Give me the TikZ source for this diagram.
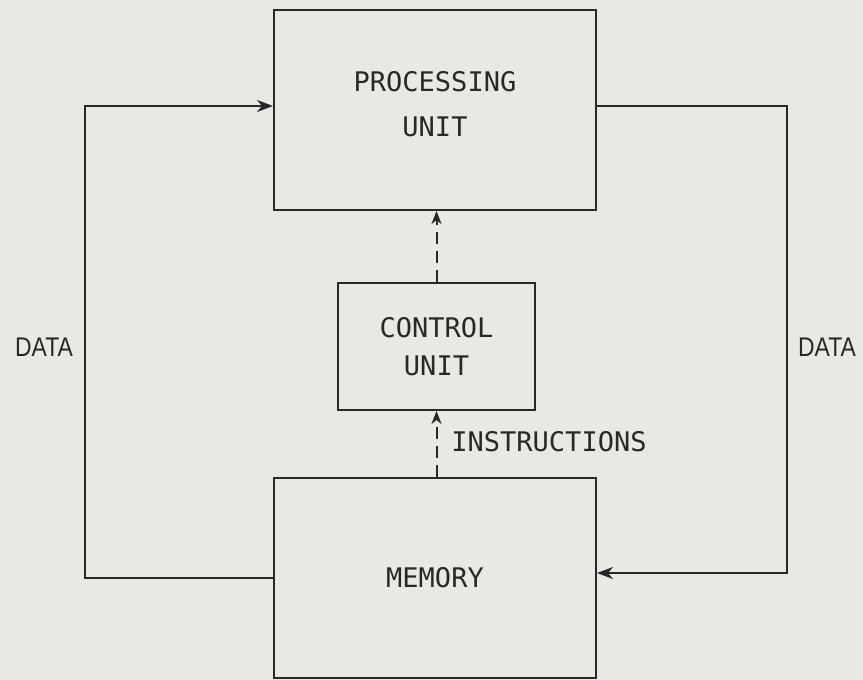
\documentclass[tikz,border=0pt]{standalone}
\usepackage{fontspec}
\newfontfamily\boxfont{DejaVu Sans Mono}
\newfontfamily\datafont[FakeStretch=0.85]{Liberation Sans}
\usetikzlibrary{arrows.meta}
\definecolor{paper}{RGB}{230,234,226}
\definecolor{ink}{RGB}{40,40,40}
\tikzset{
  unitbox/.style={draw=ink, line width=2pt, rectangle, inner sep=0pt,
    align=center, text=ink, font=\boxfont\fontsize{27}{45}\selectfont},
  flow/.style={draw=ink, line width=2pt, -{Stealth[length=16pt,width=12pt,inset=5pt]}},
  ctrlflow/.style={draw=ink, line width=2pt, dash pattern=on 12pt off 7pt,
    -{Stealth[length=13pt,width=10pt,inset=4pt]}},
  datalabel/.style={text=ink, font=\datafont\fontsize{27}{30}\selectfont, inner sep=0pt},
  instrlabel/.style={text=ink, font=\boxfont\fontsize{27}{30}\selectfont, inner sep=0pt}
}
\begin{document}
\begin{tikzpicture}[x=1pt,y=-1pt]
\fill[paper] (0,0) rectangle (863,680);
\useasboundingbox (0,0) rectangle (863,680);
\node[unitbox, minimum width=322pt, minimum height=200pt,
  label={[text=ink, align=center, font=\boxfont\fontsize{27}{45}\selectfont, yshift=5.5pt]center:PROCESSING\\UNIT}] (proc) at (435,110) {};
\node[unitbox, minimum width=197pt, minimum height=127pt,
  font=\boxfont\fontsize{27}{38}\selectfont] (ctrl) at (436.5,346.5) {CONTROL\\UNIT};
\node[unitbox, minimum width=322pt, minimum height=200pt] (mem) at (435,578) {MEMORY};
\draw[flow] (mem.west) -- ++(-188pt,0) |- ([yshift=4pt]proc.west);
\draw[flow] ([yshift=4pt]proc.east) -- ++(190pt,0) |- ([yshift=5pt]mem.east);
\draw[ctrlflow] (ctrl.north) -- (ctrl.north |- proc.south);
\draw[ctrlflow] (ctrl.south |- mem.north) -- (ctrl.south);
\node[datalabel] (dataL) at (44,347) {DATA};
\node[datalabel] (dataR) at (827,347) {DATA};
\node[instrlabel] (instr) at (549,442) {INSTRUCTIONS};
\end{tikzpicture}
\end{document}
